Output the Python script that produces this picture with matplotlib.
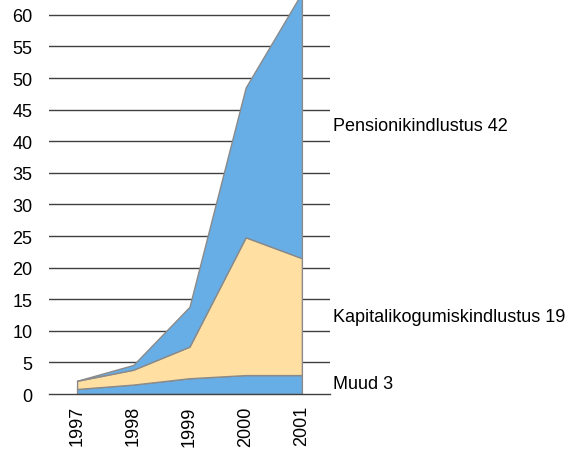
import matplotlib
matplotlib.use("Agg")
import matplotlib.pyplot as plt
import numpy as np

plt.rcParams['font.family'] = ['Liberation Sans', 'DejaVu Sans']

# andmed (mld kr)
years = ['1997', '1998', '1999', '2000', '2001']
muud = [0.8, 1.5, 2.5, 3.0, 3.0]
kapital = [1.3, 2.35, 5.0, 21.8, 18.5]
pension = [0.0, 0.75, 6.3, 23.7, 42.0]
labels = ['Muud 3', 'Kapitalikogumiskindlustus 19', 'Pensionikindlustus 42']
yticks = list(range(0, 61, 5))

blue = '#67AEE6'
yellow = '#FFE0A2'
edge = '#8a8a8a'

fig = plt.figure(figsize=(5.83, 4.52), dpi=100)
ax = fig.add_axes([0.084, 0.126, 0.482, 0.874])

x = np.arange(len(years))
b1 = np.array(muud)
b2 = b1 + np.array(kapital)
b3 = b2 + np.array(pension)

ax.fill_between(x, 0, b1, facecolor=blue, edgecolor=edge, linewidth=1, zorder=3)
ax.fill_between(x, b1, b2, facecolor=yellow, edgecolor=edge, linewidth=1, zorder=3)
ax.fill_between(x, b2, b3, facecolor=blue, edgecolor=edge, linewidth=1, zorder=3)

for y in yticks:
    ln = ax.axhline(y, color='#404040', linewidth=1, zorder=1)
    if y == 0:
        ln.set_zorder(4)
        ln.set_clip_on(False)

ax.set_xlim(-0.5, len(years) - 0.5)
ax.set_ylim(0, 62.5)
ax.set_yticks(yticks)
ax.set_xticks(x)
ax.set_xticklabels(years, rotation=90, fontsize=13)
ax.tick_params(axis='y', length=0, labelsize=13, pad=12)
ax.tick_params(axis='x', length=0, pad=8)
for s in ax.spines.values():
    s.set_visible(False)

# sildid paremal
label_y = [1.6, 12.3, 42.5]
for t, yy in zip(labels, label_y):
    ax.text(4.55, yy, t, fontsize=13, va='center', ha='left', clip_on=False)

fig.savefig('out.png', dpi=100, facecolor='white')
